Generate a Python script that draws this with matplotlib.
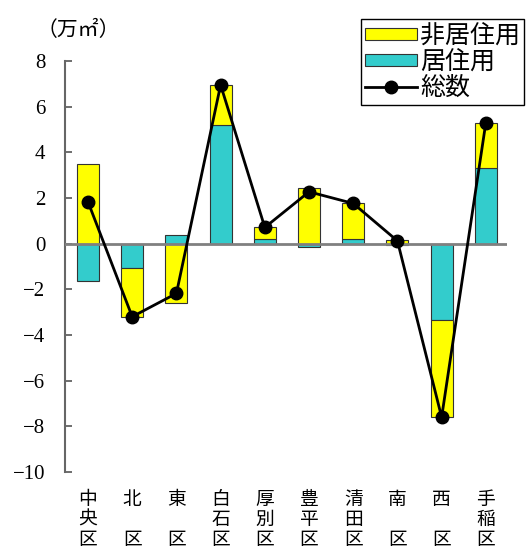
import matplotlib.pyplot as plt
import numpy as np

# 区別の増減（万㎡）
wards = ['中\n央\n区', '北\n　\n区', '東\n　\n区', '白\n石\n区', '厚\n別\n区',
         '豊\n平\n区', '清\n田\n区', '南\n　\n区', '西\n　\n区', '手\n稲\n区']
residential = [-1.65, -1.05, 0.40, 5.20, 0.20, -0.15, 0.20, -0.06, -3.35, 3.30]
non_residential = [3.50, -2.15, -2.58, 1.75, 0.51, 2.42, 1.56, 0.18, -4.22, 2.00]
total = [1.83, -3.20, -2.18, 6.95, 0.71, 2.27, 1.76, 0.12, -7.60, 5.30]
yticks = [8, 6, 4, 2, 0, -2, -4, -6, -8, -10]

# 数字は明朝風のセリフ体、日本語はCJKフォント
plt.rcParams['font.family'] = ['Liberation Serif', 'DejaVu Serif']
plt.rcParams['axes.unicode_minus'] = True
jp = ['Noto Sans CJK JP', 'DejaVu Sans']

fig = plt.figure(figsize=(5.26, 5.54), dpi=100)
ax = fig.add_axes([0.1236, 0.148, 0.8404, 0.742])

x = np.arange(len(wards))
res = np.array(residential)
non = np.array(non_residential)

# 居住用を0から積み、非居住用は同じ符号なら居住用の上に積む
non_bottom = np.where(np.sign(non) == np.sign(res), res, 0)

b_res = ax.bar(x, res, width=0.5, color='#33CCCC', edgecolor='#333333',
               linewidth=0.8, zorder=2)
b_non = ax.bar(x, non, width=0.5, bottom=non_bottom, color='#FFFF00',
               edgecolor='#333333', linewidth=0.8, zorder=2)
ax.axhline(0, color='#808080', linewidth=2, zorder=3)
ln, = ax.plot(x, total, color='black', linewidth=2, marker='o', markersize=9,
              zorder=4)

ax.set_xlim(-0.52, 9.48)
ax.set_ylim(-10, 8)
ax.set_yticks(yticks)
ax.tick_params(axis='y', direction='in', length=5, width=1.2, color='#555555',
               pad=14, labelsize=15)

ax.set_xticks(x)
ax.set_xticklabels(wards, family=jp, fontsize=13.5, linespacing=0.95)
ax.tick_params(axis='x', length=0, pad=12)

for s in ['top', 'right', 'bottom']:
    ax.spines[s].set_visible(False)
ax.spines['left'].set_color('#666666')
ax.spines['left'].set_linewidth(1.5)

fig.text(0.07, 0.946, '（万㎡）', family=jp, fontsize=15, va='center', ha='left')

leg = ax.legend([b_non, b_res, ln], ['非居住用', '居住用', '総数'],
                loc='upper left', bbox_to_anchor=(361 / 526, 1 - 19 / 554),
                bbox_transform=fig.transFigure, prop={'family': jp, 'size': 18},
                frameon=True, fancybox=False, edgecolor='black', framealpha=1,
                handlelength=2.1, handleheight=0.4, handletextpad=0.12,
                labelspacing=0.0, borderpad=0.15, borderaxespad=0)
leg.get_frame().set_linewidth(1)

fig.savefig('out.png', dpi=100)
